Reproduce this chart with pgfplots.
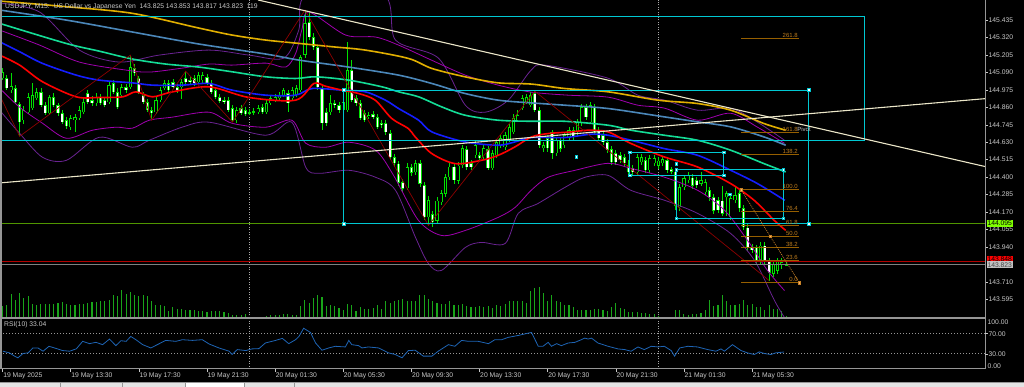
\documentclass[border=0pt]{standalone}
\usepackage{pgfplots}
\pgfplotsset{compat=1.18}
\usepackage{pgfplotstable}
\usepackage{fontspec}
\setmainfont{Liberation Sans}
\definecolor{wick}{RGB}{0,225,0}
\definecolor{lgray}{RGB}{200,200,200}
\definecolor{fr}{RGB}{150,150,150}
\definecolor{sepc}{RGB}{170,170,170}
\definecolor{maRed}{RGB}{255,0,0}
\definecolor{maBlue}{RGB}{20,30,255}
\definecolor{maGreen}{RGB}{20,220,150}
\definecolor{maSteel}{RGB}{75,135,185}
\definecolor{maGold}{RGB}{225,175,0}
\definecolor{bbA}{RGB}{160,0,175}
\definecolor{bbB}{RGB}{105,35,145}
\definecolor{zz}{RGB}{140,0,0}
\definecolor{rc}{RGB}{0,200,210}
\definecolor{tl}{RGB}{235,230,200}
\definecolor{lvG}{RGB}{80,150,0}
\definecolor{lvR}{RGB}{180,0,0}
\definecolor{lvGray}{RGB}{128,128,128}
\definecolor{fib}{RGB}{150,95,0}
\definecolor{fibtxt}{RGB}{190,125,30}
\definecolor{fibdot}{RGB}{200,130,40}
\definecolor{vol}{RGB}{25,165,25}
\definecolor{rsi}{RGB}{30,100,180}
\definecolor{tabbg}{RGB}{228,228,228}
\definecolor{tabline}{RGB}{150,150,150}
\newcommand\ticfont{\fontsize{6.8}{8}\selectfont}
\newcommand\smfont{\fontsize{6}{7}\selectfont}

\pgfplotstableread{
i o h l c
0 145.052 145.118 145.039 145.092
1 145.052 145.072 144.973 144.986
2 144.973 145.085 144.953 144.999
3 144.986 145.006 144.881 144.894
4 144.881 144.894 144.669 144.762
5 144.775 144.867 144.749 144.841
6 144.828 144.953 144.815 144.927
7 144.854 145.019 144.841 144.940
8 144.920 144.986 144.907 144.960
9 144.960 144.986 144.861 144.874
10 144.874 144.894 144.808 144.821
11 144.821 144.940 144.808 144.927
12 144.927 144.953 144.861 144.874
13 144.874 144.887 144.801 144.821
14 144.821 144.841 144.749 144.762
15 144.775 144.795 144.716 144.735
16 144.729 144.808 144.709 144.788
17 144.775 144.815 144.696 144.795
18 144.788 144.867 144.775 144.841
19 144.828 144.920 144.815 144.894
20 144.953 144.973 144.881 144.894
21 144.907 144.933 144.867 144.887
22 144.887 144.953 144.867 144.927
23 144.927 144.947 144.874 144.887
24 144.907 144.927 144.861 144.874
25 144.894 145.026 144.881 145.006
26 145.019 145.039 144.947 144.960
27 144.960 144.986 144.848 144.861
28 144.940 145.013 144.927 144.993
29 144.993 145.013 144.953 144.973
30 144.993 145.204 144.980 145.125
31 145.118 145.145 145.065 145.085
32 145.052 145.065 144.947 144.960
33 144.940 144.960 144.881 144.894
34 144.894 144.914 144.828 144.841
35 144.841 144.861 144.775 144.821
36 144.828 144.927 144.815 144.907
37 144.907 144.993 144.894 144.973
38 144.986 145.039 144.973 145.019
39 145.019 145.039 144.960 144.973
40 145.026 145.046 144.980 144.993
41 144.993 145.013 144.953 144.973
42 144.993 145.046 144.914 145.026
43 145.052 145.098 145.013 145.026
44 145.039 145.059 145.013 145.026
45 145.052 145.072 144.999 145.019
46 145.026 145.092 145.013 145.072
47 145.039 145.092 145.019 145.072
48 145.059 145.079 145.006 145.019
49 145.019 145.039 144.947 144.960
50 144.973 144.993 144.914 144.927
51 144.927 144.947 144.887 144.900
52 144.907 144.927 144.881 144.894
53 144.907 144.927 144.828 144.841
54 144.854 144.874 144.762 144.775
55 144.775 144.861 144.755 144.841
56 144.854 144.874 144.808 144.821
57 144.841 144.861 144.801 144.815
58 144.828 144.848 144.808 144.821
59 144.834 144.854 144.808 144.828
60 144.828 144.874 144.815 144.854
61 144.861 144.881 144.815 144.828
62 144.828 144.907 144.815 144.887
63 144.887 144.940 144.874 144.920
64 144.907 144.947 144.894 144.927
65 144.920 144.960 144.907 144.940
66 144.940 144.986 144.927 144.973
67 144.953 144.973 144.828 144.887
68 144.920 144.993 144.907 144.973
69 144.940 145.006 144.927 144.986
70 144.973 145.204 144.960 145.191
71 145.204 145.501 145.184 145.415
72 145.422 145.488 145.303 145.323
73 145.323 145.349 145.237 145.257
74 145.257 145.270 144.973 144.993
75 144.986 145.006 144.709 144.755
76 144.828 144.854 144.735 144.755
77 144.828 144.940 144.808 144.887
78 144.887 144.907 144.854 144.874
79 144.874 144.894 144.821 144.841
80 144.841 144.927 144.828 144.894
81 144.841 145.290 144.828 145.105
82 145.105 145.171 144.894 144.907
83 144.920 144.940 144.867 144.887
84 144.887 144.907 144.775 144.788
85 144.821 144.841 144.762 144.775
86 144.795 144.828 144.782 144.808
87 144.815 144.834 144.782 144.795
88 144.795 144.815 144.716 144.729
89 144.755 144.775 144.722 144.742
90 144.755 144.775 144.676 144.696
91 144.689 144.709 144.511 144.531
92 144.531 144.551 144.471 144.491
93 144.491 144.511 144.346 144.366
94 144.366 144.386 144.306 144.326
95 144.326 144.491 144.313 144.465
96 144.465 144.485 144.412 144.432
97 144.432 144.511 144.412 144.491
98 144.491 144.511 144.339 144.359
99 144.346 144.366 144.115 144.135
100 144.135 144.273 144.082 144.247
101 144.155 144.181 144.075 144.102
102 144.115 144.267 144.095 144.247
103 144.234 144.313 144.214 144.293
104 144.293 144.419 144.273 144.399
105 144.399 144.491 144.379 144.471
106 144.471 144.491 144.359 144.379
107 144.379 144.498 144.359 144.478
108 144.478 144.610 144.458 144.590
109 144.584 144.603 144.445 144.465
110 144.491 144.511 144.445 144.465
111 144.544 144.643 144.524 144.610
112 144.544 144.564 144.504 144.524
113 144.531 144.610 144.511 144.590
114 144.584 144.603 144.445 144.458
115 144.458 144.577 144.445 144.557
116 144.544 144.650 144.524 144.630
117 144.610 144.676 144.590 144.656
118 144.597 144.696 144.577 144.676
119 144.643 144.749 144.630 144.729
120 144.696 144.815 144.683 144.788
121 144.775 144.841 144.762 144.808
122 144.854 144.940 144.841 144.920
123 144.894 144.947 144.881 144.927
124 144.874 144.960 144.861 144.940
125 144.953 144.966 144.828 144.841
126 144.841 144.861 144.590 144.610
127 144.590 144.630 144.564 144.610
128 144.656 144.676 144.564 144.590
129 144.696 144.709 144.524 144.557
130 144.557 144.663 144.537 144.643
131 144.643 144.663 144.570 144.590
132 144.610 144.696 144.590 144.676
133 144.656 144.729 144.636 144.709
134 144.709 144.729 144.643 144.663
135 144.696 144.782 144.676 144.762
136 144.755 144.881 144.735 144.861
137 144.861 144.881 144.775 144.795
138 144.762 144.894 144.749 144.874
139 144.861 144.881 144.676 144.696
140 144.709 144.729 144.636 144.656
141 144.676 144.696 144.610 144.630
142 144.630 144.650 144.557 144.577
143 144.584 144.603 144.478 144.498
144 144.557 144.577 144.478 144.498
145 144.544 144.564 144.491 144.511
146 144.531 144.551 144.471 144.491
147 144.478 144.511 144.412 144.432
148 144.458 144.478 144.412 144.432
149 144.432 144.551 144.412 144.531
150 144.498 144.551 144.478 144.531
151 144.511 144.531 144.425 144.445
152 144.445 144.544 144.425 144.524
153 144.491 144.544 144.471 144.524
154 144.478 144.531 144.458 144.511
155 144.491 144.537 144.471 144.518
156 144.511 144.531 144.425 144.445
157 144.452 144.471 144.419 144.438
158 144.438 144.458 144.181 144.214
159 144.201 144.353 144.181 144.333
160 144.333 144.412 144.313 144.392
161 144.379 144.432 144.359 144.412
162 144.399 144.419 144.326 144.346
163 144.379 144.399 144.326 144.346
164 144.359 144.432 144.339 144.379
165 144.300 144.386 144.280 144.366
166 144.313 144.333 144.247 144.267
167 144.267 144.287 144.161 144.181
168 144.247 144.267 144.161 144.181
169 144.247 144.339 144.141 144.161
170 144.267 144.313 144.148 144.293
171 144.135 144.280 144.115 144.260
172 144.247 144.333 144.227 144.280
173 144.293 144.313 144.174 144.194
174 144.194 144.214 144.049 144.069
175 144.069 144.089 143.917 143.937
176 143.937 143.957 143.897 143.917
177 143.937 143.957 143.831 143.851
178 143.851 143.970 143.831 143.950
179 143.950 143.970 143.831 143.851
180 143.851 143.871 143.719 143.772
181 143.765 143.851 143.745 143.831
182 143.785 143.871 143.765 143.851
183 143.818 143.864 143.798 143.838
184 143.825 143.853 143.817 143.823
}\candles

\pgfplotstableread{
i v
0 360
1 400
2 720
3 550
4 750
5 600
6 650
7 430
8 400
9 420
10 430
11 430
12 420
13 450
14 470
15 430
16 400
17 400
18 420
19 420
20 440
21 470
22 470
23 500
24 520
25 550
26 680
27 650
28 840
29 720
30 770
31 680
32 650
33 680
34 660
35 520
36 400
37 400
38 370
39 220
40 330
41 270
42 270
43 250
44 250
45 250
46 220
47 200
48 180
49 200
50 200
51 200
52 170
53 150
54 100
55 80
56 80
57 120
58 20
59 15
60 40
61 30
62 50
63 80
64 80
65 100
66 120
67 120
68 100
69 100
70 350
71 550
72 450
73 600
74 680
75 620
76 350
77 400
78 350
79 300
80 250
81 430
82 400
83 200
84 330
85 280
86 280
87 300
88 400
89 280
90 500
91 450
92 520
93 550
94 580
95 500
96 520
97 500
98 680
99 700
100 580
101 500
102 450
103 420
104 420
105 500
106 400
107 380
108 420
109 350
110 320
111 320
112 350
113 320
114 350
115 300
116 380
117 350
118 420
119 500
120 520
121 520
122 520
123 450
124 800
125 900
126 930
127 750
128 520
129 680
130 500
131 470
132 400
133 380
134 320
135 250
136 250
137 230
138 250
139 280
140 280
141 250
142 200
143 320
144 450
145 300
146 270
147 180
148 180
149 180
150 150
151 150
152 130
153 120
154 50
155 10
156 10
157 10
158 250
159 250
160 120
161 100
162 120
163 120
164 150
165 250
166 550
167 350
168 400
169 680
170 500
171 400
172 400
173 420
174 550
175 400
176 420
177 330
178 330
179 250
180 380
181 280
182 280
183 200
184 60
}\vols

\pgfplotstableread{
i r
0.08 34.6
1.6 31.3
2.8 24.7
3.6 21.4
4.8 30.0
6.0 31.3
7.1 41.1
8.3 41.1
9.5 34.6
10.9 44.4
12.2 41.1
14.1 35.9
15.7 34.6
17.3 39.2
18.8 54.3
20.4 49.7
21.9 52.3
23.5 47.7
25.1 58.9
26.6 45.7
27.8 55.6
29.0 54.3
30.1 64.1
31.3 57.6
32.9 47.7
34.8 41.1
36.8 49.7
38.3 56.2
40.7 54.3
42.2 57.6
44.6 56.2
46.9 57.6
48.5 49.0
50.8 41.1
53.2 34.6
53.9 28.0
55.1 37.8
57.1 35.9
58.6 39.2
60.2 39.8
61.7 51.0
64.1 56.2
65.7 60.2
67.2 49.7
68.8 57.6
69.6 64.1
70.7 80.5
72.3 72.0
73.5 51.0
75.0 36.5
76.6 41.1
78.1 44.4
80.5 43.1
81.3 56.2
82.0 47.7
83.6 45.7
84.4 41.1
85.9 43.1
88.3 41.1
90.6 31.3
92.2 28.0
93.8 21.4
95.3 35.9
96.9 36.5
98.8 24.7
100.8 24.7
102.3 34.6
104.7 47.7
106.2 44.4
107.8 56.2
109.4 54.3
111.7 54.3
114.1 49.7
115.6 57.6
117.2 57.6
118.7 62.2
121.1 66.1
123.4 70.7
124.2 72.0
125.8 44.4
126.9 44.4
128.1 52.3
128.9 44.4
130.1 49.7
131.2 45.7
132.8 51.0
134.4 52.3
135.9 57.6
136.7 60.8
137.5 58.9
138.3 60.8
139.8 51.0
142.2 44.4
144.5 39.2
146.1 37.8
147.6 34.6
149.2 43.1
150.7 37.8
152.3 44.4
153.9 43.1
155.4 44.4
157.0 35.9
157.8 24.7
159.0 41.1
160.9 44.4
163.2 43.1
165.6 37.8
167.5 34.6
168.7 39.2
169.5 34.6
171.4 47.7
173.4 35.9
174.9 31.3
176.5 28.0
177.7 33.2
178.9 29.9
180.4 28.0
181.6 31.3
183.5 33.0
}\rsidata

\pgfplotsset{
  cbar/.style={draw=none, mark=none, error bars/y dir=both, error bars/y explicit, error bars/error mark=none},
}
\tikzset{fiblab/.style={anchor=south east, font=\smfont, text=fibtxt, inner sep=0.6bp}}

\begin{document}
\begin{tikzpicture}
\fill[black] (0bp,0bp) rectangle (1024bp,387bp);
% tab bar
\fill[tabbg] (0bp,0bp) rectangle (1024bp,4.5bp);
\fill[white] (185.5bp,0bp) rectangle (244bp,4.5bp);
\draw[tabline, line width=0.6bp] (0bp,4.5bp) -- (1024bp,4.5bp);
\foreach \xx in {60,122,185,244,294} \draw[tabline, line width=0.6bp] (\xx bp,0bp) -- (\xx bp,4.5bp);

% volumes
\begin{axis}[at={(0bp,69bp)}, anchor=south west, width=985bp, height=40bp, scale only axis,
  xmin=-0.61, xmax=230.7, ymin=0, ymax=1200, hide axis]
\addplot[ycomb, vol, line width=1.1bp, mark=none] table[x=i, y=v] {\vols};
\end{axis}

% main price panel
\begin{axis}[at={(0bp,69bp)}, anchor=south west, width=985bp, height=318bp, scale only axis,
  xmin=-0.61, xmax=230.7, ymin=143.472, ymax=145.567,
  axis line style={draw=none}, xtick=\empty,
  ytick={143.595,143.710,143.940,144.055,144.170,144.285,144.400,144.515,144.630,144.745,144.860,144.975,145.090,145.205,145.320,145.435},
  ytick pos=right, yticklabel pos=right, tick align=outside, major tick length=3bp,
  tick style={draw=lgray, line width=0.5bp},
  yticklabel style={font=\ticfont, text=lgray, anchor=west, inner sep=0.5bp,
    /pgf/number format/.cd, fixed, fixed zerofill, precision=3, assume math mode=true},
  clip mode=individual]
% day separators
\addplot[sepc, dash pattern=on 1bp off 1.5bp, line width=0.7bp] coordinates {(58,143.472) (58,145.567)};
\addplot[sepc, dash pattern=on 1bp off 1.5bp, line width=0.7bp] coordinates {(154,143.472) (154,145.567)};
% candles
\addplot[cbar, error bars/error bar style={draw=wick, line width=0.8bp}]
  table[x=i, y expr={(\thisrow{h}+\thisrow{l})/2}, y error expr={(\thisrow{h}-\thisrow{l})/2}] {\candles};
\addplot[cbar, error bars/error bar style={draw=wick, line width=3.2bp}]
  table[x=i, y expr={(\thisrow{o}+\thisrow{c})/2}, y error expr={max(abs(\thisrow{c}-\thisrow{o})/2,0.001)}] {\candles};
\addplot[cbar, restrict expr to domain={\thisrow{c}-\thisrow{o}}{0:1}, error bars/error bar style={draw=black, line width=1.6bp}]
  table[x=i, y expr={(\thisrow{o}+\thisrow{c})/2}, y error expr={max(abs(\thisrow{c}-\thisrow{o})/2-0.0035,0)}] {\candles};
\addplot[cbar, restrict expr to domain={\thisrow{c}-\thisrow{o}}{-1:-0.0005}, error bars/error bar style={draw=white, line width=1.6bp}]
  table[x=i, y expr={(\thisrow{o}+\thisrow{c})/2}, y error expr={max(abs(\thisrow{c}-\thisrow{o})/2-0.0035,0)}] {\candles};
% bands
\addplot[bbB, line width=0.8bp, smooth] coordinates {(-0.70,145.547) (8.67,145.488) (18.03,145.237) (27.40,145.158) (36.77,145.204) (48.48,145.237) (57.85,145.204) (66.04,145.184) (69.56,145.369) (71.43,145.600) (89.46,145.600) (92.27,145.303) (102.34,145.184) (108.67,144.874) (113.35,144.828) (118.74,144.907) (124.12,145.105) (127.40,145.138) (142.15,145.052) (149.18,144.940) (155.50,144.907) (163.23,144.841) (170.96,144.854) (177.28,144.762) (183.61,144.643)};
\addplot[bbA, line width=0.8bp, smooth] coordinates {(-0.70,145.369) (8.67,145.270) (18.03,145.158) (29.04,145.105) (34.43,145.092) (42.15,145.118) (48.48,145.145) (53.86,145.138) (61.83,145.151) (66.51,145.125) (68.85,145.217) (70.26,145.369) (71.90,145.488) (80.56,145.336) (87.59,145.323) (92.97,145.270) (100.70,145.171) (108.67,145.072) (116.39,145.006) (124.12,144.960) (132.79,144.940) (142.15,144.927) (149.18,144.874) (155.50,144.854) (163.23,144.775) (170.96,144.821) (177.28,144.729) (183.61,144.623)};
\addplot[bbA, line width=0.8bp, smooth] coordinates {(-0.70,144.986) (3.98,144.861) (9.37,144.755) (14.99,144.656) (21.08,144.709) (26.70,144.729) (30.44,144.722) (34.43,144.775) (39.81,144.795) (48.48,144.828) (53.86,144.755) (61.83,144.729) (67.92,144.775) (71.19,144.623) (75.88,144.597) (81.26,144.630) (87.59,144.577) (91.80,144.412) (97.66,144.115) (103.04,144.016) (108.67,144.049) (116.39,144.135) (120.37,144.201) (124.12,144.313) (128.10,144.399) (134.43,144.445) (142.15,144.491) (147.54,144.458) (155.50,144.399) (163.23,144.313) (169.56,144.181) (174.94,143.983) (179.63,143.785) (183.61,143.653)};
\addplot[bbB, line width=0.8bp, smooth] coordinates {(-0.70,144.841) (3.98,144.689) (9.37,144.531) (14.99,144.511) (22.72,144.663) (30.44,144.597) (34.43,144.643) (42.15,144.729) (48.48,144.762) (61.83,144.676) (67.92,144.762) (71.19,144.465) (74.24,144.425) (81.26,144.445) (87.59,144.399) (92.27,144.313) (96.96,144.003) (100.00,143.831) (103.04,143.785) (108.67,143.937) (112.41,143.970) (118.03,143.963) (121.08,144.161) (125.76,144.227) (132.08,144.333) (136.77,144.399) (142.15,144.412) (147.54,144.313) (155.50,144.247) (163.23,144.161) (170.96,144.029) (176.58,143.851) (181.26,143.587) (183.61,143.475)};
% moving averages
\addplot[maGold, line width=1.6bp, smooth] coordinates {(-0.7,145.560) (14.9,145.523) (30.5,145.479) (46.1,145.382) (53.9,145.336) (61.8,145.303) (69.6,145.281) (77.4,145.259) (85.2,145.237) (95.3,145.182) (100.8,145.116) (108.6,145.061) (116.4,145.021) (124.2,145.013) (132.0,144.984) (142.2,144.962) (153.9,144.907) (163.2,144.885) (171.0,144.841) (178.8,144.753) (183.9,144.709)};
\addplot[maSteel, line width=1.6bp, smooth] coordinates {(-0.7,145.501) (14.9,145.435) (30.5,145.356) (46.1,145.277) (61.8,145.211) (69.6,145.171) (81.3,145.125) (93.0,145.072) (100.8,145.017) (108.6,144.951) (116.4,144.907) (124.2,144.889) (132.0,144.874) (142.2,144.852) (155.4,144.797) (163.2,144.764) (171.0,144.731) (178.8,144.665) (183.9,144.610)};
\addplot[maGreen, line width=1.6bp, smooth] coordinates {(-0.7,145.413) (14.9,145.281) (22.7,145.230) (30.5,145.178) (38.3,145.145) (46.1,145.125) (53.9,145.094) (61.8,145.061) (68.8,145.050) (73.5,145.061) (81.3,145.039) (89.1,144.995) (93.0,144.962) (97.7,144.929) (103.1,144.863) (108.6,144.808) (116.4,144.775) (124.2,144.768) (132.0,144.768) (142.2,144.742) (147.6,144.709) (155.4,144.676) (163.2,144.643) (171.0,144.577) (178.8,144.489) (183.9,144.434)};
\addplot[maBlue, line width=1.6bp, smooth] coordinates {(-0.7,145.292) (4.0,145.226) (9.4,145.149) (17.3,145.072) (22.7,145.039) (30.5,145.021) (35.2,145.006) (42.2,145.006) (48.5,145.017) (53.9,144.973) (61.8,144.940) (68.8,144.940) (72.7,144.984) (79.7,144.973) (85.2,144.962) (89.9,144.907) (93.0,144.852) (97.7,144.775) (100.8,144.698) (108.6,144.632) (116.4,144.610) (120.3,144.632) (124.2,144.661) (132.0,144.661) (138.2,144.683) (142.2,144.676) (147.6,144.643) (155.4,144.588) (163.2,144.544) (171.0,144.445) (177.3,144.357) (183.7,144.247)};
\addplot[maRed, line width=1.6bp, smooth] coordinates {(-0.7,145.204) (4.0,145.138) (9.4,145.028) (17.3,144.929) (22.7,144.925) (28.2,144.929) (31.3,144.962) (35.2,144.929) (39.9,144.962) (48.5,144.995) (57.8,144.925) (68.8,144.907) (73.1,145.017) (75.8,144.999) (79.7,144.973) (83.6,144.951) (87.5,144.907) (91.4,144.786) (95.3,144.720) (96.9,144.665) (100.8,144.555) (106.3,144.489) (112.5,144.511) (116.4,144.544) (120.3,144.599) (124.2,144.665) (128.1,144.687) (133.6,144.698) (137.5,144.709) (142.2,144.698) (147.6,144.621) (155.4,144.533) (163.2,144.467) (171.0,144.357) (176.5,144.247) (181.2,144.115) (183.9,144.049)};
% zigzag
\addplot[zz, line width=0.7bp] coordinates {(-0.61,144.935) (4,144.669) (30,145.204) (35,144.775) (43,145.098) (54,144.762) (71,145.501) (100,144.082) (125,144.966) (180,143.719)};
% horizontal price lines
\addplot[lvG, line width=0.8bp] coordinates {(-0.61,144.095) (230.7,144.095)};
\addplot[lvR, line width=0.8bp] coordinates {(-0.61,143.848) (230.7,143.848)};
\addplot[lvGray, line width=0.8bp] coordinates {(-0.61,143.823) (230.7,143.823)};
% rectangles
\addplot[rc, line width=0.9bp] coordinates {(-0.61,145.457) (202.4,145.457) (202.4,144.643) (-0.61,144.643)};
\addplot[rc, line width=0.9bp] coordinates {(80.1,144.974) (189.3,144.974) (189.3,144.094) (80.1,144.094) (80.1,144.974)};
\addplot[rc, line width=0.9bp] coordinates {(147.2,144.564) (169.3,144.564) (169.3,144.413) (147.2,144.413) (147.2,144.564)};
\addplot[rc, line width=0.9bp] coordinates {(158.2,144.448) (183.3,144.448) (183.3,144.129) (158.2,144.129) (158.2,144.448)};
% trendlines
\addplot[tl, line width=1.1bp] coordinates {(60.0,145.567) (230.7,144.470)};
\addplot[tl, line width=1.1bp] coordinates {(-0.61,144.362) (230.7,144.917)};
% fibonacci
\addplot[fib, line width=0.8bp] coordinates {(173.4,143.704) (187.1,143.704)};
\addplot[fib, line width=0.8bp] coordinates {(173.4,143.849) (187.1,143.849)};
\addplot[fib, line width=0.8bp] coordinates {(173.4,143.939) (187.1,143.939)};
\addplot[fib, line width=0.8bp] coordinates {(173.4,144.011) (187.1,144.011)};
\addplot[fib, line width=0.8bp] coordinates {(173.4,144.083) (187.1,144.083)};
\addplot[fib, line width=0.8bp] coordinates {(173.4,144.173) (187.1,144.173)};
\addplot[fib, line width=0.8bp] coordinates {(173.4,144.318) (187.1,144.318)};
\addplot[fib, line width=0.8bp] coordinates {(173.4,144.553) (187.1,144.553)};
\addplot[fib, line width=0.8bp] coordinates {(173.4,144.697) (187.1,144.697)};
\addplot[fib, line width=0.8bp] coordinates {(173.4,145.311) (187.1,145.311)};
\addplot[fibdot, line width=0.7bp, dash pattern=on 1bp off 1bp] coordinates {(173.4,144.318) (187.1,143.704)};
\addplot[only marks, mark=square*, mark size=1.2bp, mark options={fill=orange!60!white, draw=fibdot, line width=0.3bp}] coordinates {(173.4,144.318) (180.25,144.011) (187.1,143.704)};
% object anchor points
\addplot[only marks, mark=square*, mark size=1.4bp, mark options={fill=white, draw=rc, line width=0.4bp}] coordinates {(80.1,144.974) (189.3,144.974) (80.1,144.094) (189.3,144.094) (147.2,144.564) (169.3,144.564) (147.2,144.413) (169.3,144.413) (158.2,144.448) (183.3,144.448) (158.2,144.129) (183.3,144.129) (158.2,144.486) (170.8,144.287) (134.7,144.535)};
% fib labels
\node[fiblab] at (axis cs:186.9,143.704) {0.0};
\node[fiblab] at (axis cs:186.9,143.849) {23.6};
\node[fiblab] at (axis cs:186.9,143.939) {38.2};
\node[fiblab] at (axis cs:186.9,144.011) {50.0};
\node[fiblab] at (axis cs:186.9,144.083) {61.8};
\node[fiblab] at (axis cs:186.9,144.173) {76.4};
\node[fiblab] at (axis cs:186.9,144.318) {100.0};
\node[fiblab] at (axis cs:186.9,144.553) {138.2};
\node[fiblab] at (axis cs:186.9,144.697) {161.8};
\node[fiblab] at (axis cs:186.9,145.311) {261.8};
\node[font=\smfont, text=lgray, inner sep=0pt] at (axis cs:188.2,144.712) {Pivot};
% right price label anchors
\coordinate (pg) at (axis cs:230.7,144.095);
\coordinate (pr) at (axis cs:230.7,143.848);
\coordinate (pb) at (axis cs:230.7,143.823);
\end{axis}

% RSI panel
\begin{axis}[at={(0bp,18bp)}, anchor=south west, width=985bp, height=51bp, scale only axis,
  xmin=-0.61, xmax=230.7, ymin=-1, ymax=101,
  axis line style={draw=none}, ytick=\empty,
  xtick={0,16,32,48,64,80,96,112,128,144,160,176},
  xticklabels={19 May 2025,19 May 13:30,19 May 17:30,19 May 21:30,20 May 01:30,20 May 05:30,20 May 09:30,20 May 13:30,20 May 17:30,20 May 21:30,21 May 01:30,21 May 05:30},
  xtick pos=bottom, xticklabel pos=bottom, tick align=outside, major tick length=3bp,
  tick style={draw=lgray, line width=0.5bp},
  xticklabel style={font=\ticfont, text=lgray, anchor=north west, inner sep=0.5bp},
  clip mode=individual]
\addplot[fr, dash pattern=on 1bp off 2bp, line width=0.6bp] coordinates {(-0.61,70) (230.7,70)};
\addplot[fr, dash pattern=on 1bp off 2bp, line width=0.6bp] coordinates {(-0.61,30) (230.7,30)};
\addplot[sepc, dash pattern=on 1bp off 1.5bp, line width=0.7bp] coordinates {(58,-1) (58,101)};
\addplot[sepc, dash pattern=on 1bp off 1.5bp, line width=0.7bp] coordinates {(154,-1) (154,101)};
\addplot[rsi, line width=0.8bp] table[x=i, y=r] {\rsidata};
\end{axis}

% frames
\draw[fr, line width=1.2bp] (0bp,69bp) -- (985bp,69bp);
\draw[fr, line width=1bp] (0bp,18bp) -- (985bp,18bp);
\draw[fr, line width=1bp] (985bp,18bp) -- (985bp,387bp);
\draw[fr, line width=1.5bp] (0.75bp,18bp) -- (0.75bp,387bp);

% right labels boxes
\node[anchor=west, fill={rgb,255:red,128;green,255;blue,0}, text=black, font=\ticfont, inner xsep=0.8bp, inner ysep=0.9bp] at ([xshift=1.5bp]pg) {144.095};
\node[anchor=west, fill=red, text=black, font=\ticfont, inner xsep=0.8bp, inner ysep=0.9bp] at ([xshift=1.5bp,yshift=1.5bp]pr) {143.848};
\node[anchor=west, fill={rgb,255:red,192;green,192;blue,192}, text={rgb,255:red,70;green,70;blue,70}, font=\ticfont, inner xsep=0.8bp, inner ysep=0.9bp] at ([xshift=1.5bp]pb) {143.823};

% RSI scale labels
\node[anchor=west, font=\ticfont, text=lgray, inner sep=0bp] at (987.5bp,64.7bp) {100.00};
\draw[lgray, line width=0.5bp] (985bp,53.3bp) -- (988bp,53.3bp);
\node[anchor=west, font=\ticfont, text=lgray, inner sep=0bp] at (988.5bp,53.3bp) {70.00};
\draw[lgray, line width=0.5bp] (985bp,33bp) -- (988bp,33bp);
\node[anchor=west, font=\ticfont, text=lgray, inner sep=0bp] at (988.5bp,33bp) {30.00};
\node[anchor=west, font=\ticfont, text=lgray, inner sep=0bp] at (987.5bp,20.7bp) {0.00};

% header texts
\node[anchor=west, font=\ticfont, text=lgray, inner sep=0bp] at (5bp,380.3bp) {USDJPY, M15:\ \ US Dollar vs Japanese Yen\ \ 143.825 143.853 143.817 143.823\ \ 119};
\node[anchor=west, font=\ticfont, text=lgray, inner sep=0bp] at (4bp,62.7bp) {RSI(10) 33.04};
\pgfresetboundingbox
\useasboundingbox (0bp,0bp) rectangle (1024bp,387bp);
\end{tikzpicture}
\end{document}
